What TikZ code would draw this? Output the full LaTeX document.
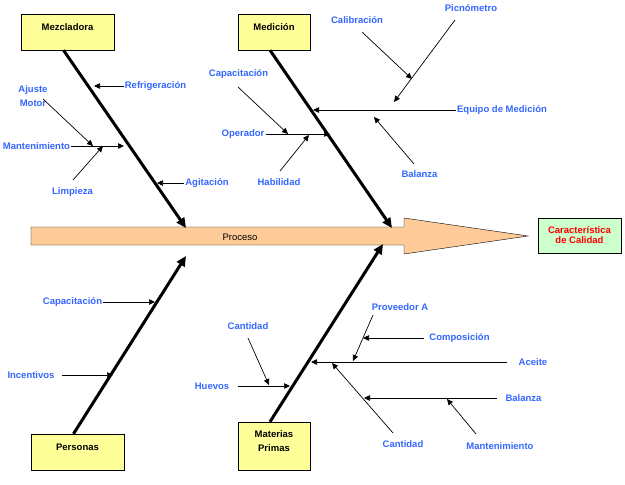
\documentclass[tikz,border=0pt]{standalone}
\usepackage{fontspec}
\setmainfont{Liberation Sans}
\usetikzlibrary{arrows.meta}

\definecolor{amarillo}{RGB}{255,255,153}
\definecolor{verde}{RGB}{204,255,204}
\definecolor{naranja}{RGB}{255,204,153}
\definecolor{azul}{RGB}{51,102,255}

\tikzset{
  caja/.style={draw=black, fill=amarillo, font=\fontsize{9.5}{14}\selectfont\bfseries, align=center, inner sep=1pt, text depth=10pt},
  efecto/.style={draw=black, fill=verde, text=red, font=\fontsize{9.5}{10}\selectfont\bfseries, align=center, inner sep=1pt},
  etiqueta/.style={text=azul, font=\fontsize{9.5}{14}\selectfont\bfseries, align=center, inner sep=1pt},
  espina/.style={line width=3pt, -{Triangle[length=10pt,width=9pt]}},
  rama/.style={line width=0.7pt, -{Triangle[length=6pt,width=5.5pt]}},
}

\begin{document}
\begin{tikzpicture}[x=1pt,y=-1pt]
\useasboundingbox (0,0) rectangle (625,485);

% espina central
\draw [fill=naranja](31,227) -- (404,227) -- (404,218) -- (528,236) -- (404,254) -- (404,245) -- (31,245) -- cycle;
\node[font=\fontsize{9.5}{11}\selectfont] (proceso) at (240,237) {Proceso};
\node[efecto, minimum width=83pt, minimum height=35pt] (calidad) at (579.5,235.5) {Característica\\de Calidad};

% cajas
\node[caja, minimum width=93pt, minimum height=36pt] (mezcladora) at (67.5,32) {Mezcladora};
\node[caja, minimum width=72pt, minimum height=36pt] (medicion) at (274,32) {Medición};
\node[caja, minimum width=93pt, minimum height=36pt] (personas) at (77.5,452) {Personas};
\node[caja, minimum width=72pt, minimum height=48pt] (materias) at (274,446) {Materias\\Primas};

% espinas
\coordinate (mzP) at (186,228);
\coordinate (meP) at (392,228);
\coordinate (peP) at (186,256);
\coordinate (maP) at (383,244);
\draw [espina]([xshift=-4pt]mezcladora.south) -- (mzP);
\draw [espina]([xshift=-4pt]medicion.south) -- (meP);
\draw [espina]([xshift=-4pt]personas.north) -- (peP);
\draw [espina]([xshift=-4pt]materias.north) -- (maP);

% Mezcladora
\node[etiqueta] (refrigeracion) at (155.5,86) {Refrigeración};
\node[etiqueta] (agitacion) at (207,183) {Agitación};
\node[etiqueta] (mantenimiento) at (36.5,146) {Mantenimiento};
\node[etiqueta] (ajuste) at (33,96) {Ajuste\\Motor};
\node[etiqueta] (limpieza) at (72.5,192) {Limpieza};
\coordinate (mz1) at (94,86);
\coordinate (mz2) at (124,146);
\coordinate (mz3) at (157,183);
\coordinate (ajA) at (43,99);
\coordinate (ajB) at (93,146);
\coordinate (liA) at (73,180);
\coordinate (liB) at (103,146);
\draw [rama](refrigeracion.west) -- (mz1);
\draw [rama](agitacion.west) -- (mz3);
\draw [rama](mantenimiento.east) -- (mz2);
\draw [rama](ajA) -- (ajB);
\draw [rama](liA) -- (liB);

% Medicion
\node[etiqueta] (capacitacionA) at (238.5,74) {Capacitación};
\node[etiqueta] (operador) at (243,134) {Operador};
\node[etiqueta] (habilidad) at (279,182) {Habilidad};
\node[etiqueta] (equipo) at (502,110) {Equipo de Medición};
\node[etiqueta] (calibracion) at (357,20) {Calibración};
\node[etiqueta] (picnometro) at (471,8) {Picnómetro};
\node[etiqueta] (balanzaA) at (419.5,174) {Balanza};
\coordinate (me1) at (313,110);
\coordinate (me2) at (330,134);
\coordinate (caA) at (238,87);
\coordinate (caB) at (288,134);
\coordinate (haA) at (280,171);
\coordinate (haB) at (309,135);
\coordinate (clA) at (362,32);
\coordinate (clB) at (412,79);
\coordinate (piA) at (455,20);
\coordinate (piB) at (394,102);
\coordinate (baA) at (414,164);
\coordinate (baB) at (374,117);
\draw [rama](equipo.west) -- (me1);
\draw [rama](operador.east) -- (me2);
\draw [rama](caA) -- (caB);
\draw [rama](haA) -- (haB);
\draw [rama](piA) -- (piB);
\draw [rama](clA) -- (clB);
\draw [rama](baA) -- (baB);

% Personas
\node[etiqueta] (capacitacionB) at (72.5,302) {Capacitación};
\node[etiqueta] (incentivos) at (31,375) {Incentivos};
\coordinate (pe1) at (155,302);
\coordinate (pe2) at (113,375);
\coordinate (inA) at (62,375);
\draw [rama](capacitacionB.east) -- (pe1);
\draw [rama](inA) -- (pe2);

% Materias Primas
\node[etiqueta] (cantidadA) at (248,326) {Cantidad};
\node[etiqueta] (huevos) at (212,386) {Huevos};
\node[etiqueta] (aceite) at (533,362) {Aceite};
\node[etiqueta] (proveedor) at (400,307) {Proveedor A};
\node[etiqueta] (composicion) at (459.5,338) {Composición};
\node[etiqueta] (balanzaB) at (523.5,398) {Balanza};
\node[etiqueta] (cantidadB) at (403,444) {Cantidad};
\node[etiqueta] (mantenimientoB) at (500,446) {Mantenimiento};
\coordinate (mp1) at (311,362);
\coordinate (mp2) at (290,386);
\coordinate (huA) at (238,386);
\coordinate (acA) at (507,362);
\coordinate (cnA) at (248,338);
\coordinate (cnB) at (269,385);
\coordinate (prA) at (373,315);
\coordinate (prB) at (353,361);
\coordinate (coA) at (424,338);
\coordinate (coB) at (363,338);
\coordinate (bzA) at (497,398);
\coordinate (bzB) at (364,398);
\coordinate (ctA) at (393,433);
\coordinate (ctB) at (332,363);
\coordinate (mnA) at (476,434);
\coordinate (mnB) at (447,399);
\draw [rama](acA) -- (mp1);
\draw [rama](huA) -- (mp2);
\draw [rama](cnA) -- (cnB);
\draw [rama](prA) -- (prB);
\draw [rama](coA) -- (coB);
\draw [rama](ctA) -- (ctB);
\draw [rama](bzA) -- (bzB);
\draw [rama](mnA) -- (mnB);

\end{tikzpicture}
\end{document}
